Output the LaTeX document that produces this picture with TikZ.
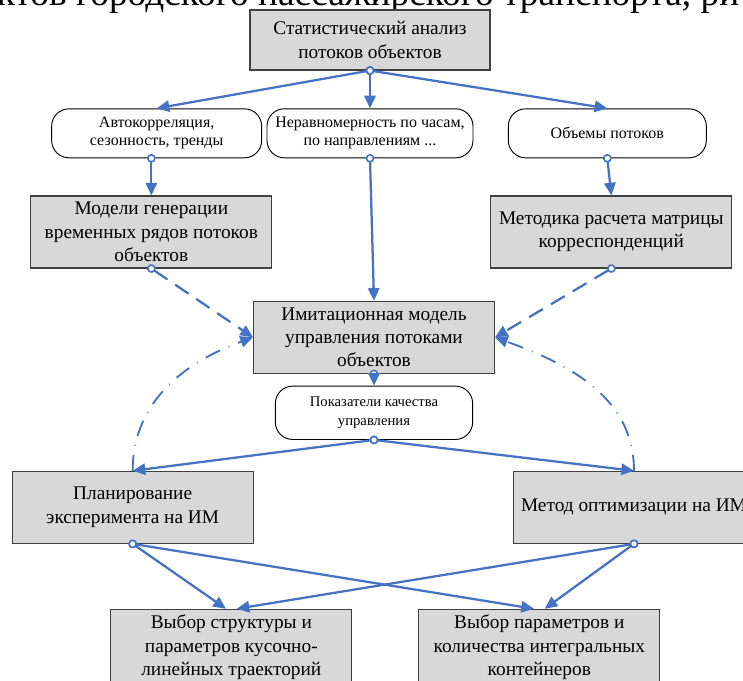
\documentclass[tikz,border=0pt]{standalone}
\usepackage{fontspec}
\setmainfont{Liberation Serif}
\usetikzlibrary{arrows.meta}
\definecolor{liniya}{RGB}{68,114,196}
\definecolor{seryj}{RGB}{216,216,216}

\begin{document}
\begin{tikzpicture}[
        node distance=70pt,
        blok/.style={rectangle, draw=black!75, fill=seryj, line width=0.8pt, minimum width=180.75pt, minimum height=54pt, align=center, font=\fontsize{14.5pt}{17.5pt}\selectfont},
        oval/.style={rectangle, rounded corners=13pt, draw=black, line width=0.7pt, fill=white, minimum height=36.75pt, align=center, font=\fontsize{12pt}{13.5pt}\selectfont},
        svyaz/.style={draw=liniya, line width=1.7pt, {Circle[fill=white,length=6.5pt,width=6.5pt,line width=1.2pt]}-{Triangle[length=9.5pt,width=8.5pt]}, shorten <=-3.25pt},
        duga/.style={draw=liniya, line width=1.4pt, -{Triangle[length=9.5pt,width=8.5pt]}, dash pattern=on 12pt off 7pt on 0.6pt off 7pt}
    ]
        \useasboundingbox (-277.5pt,30pt) rectangle (279.75pt,-480.75pt);

        % Обрезанная строка текста над схемой
        \node[anchor=base west, inner sep=0pt, font=\fontsize{28pt}{30pt}\selectfont] (shapka) at (-280pt,25.5pt) {ктов городского пассажирского транспорта, ри};

        % Узлы схемы
        \node[blok, minimum width=180pt, minimum height=45pt] (analiz) {Статистический анализ\\потоков объектов};
        \node[oval, minimum width=157.5pt] (avtokor) [below of=analiz, xshift=-160pt] {Автокорреляция,\\сезонность, тренды};
        \node[oval, minimum width=154.5pt] (neravn) [below of=analiz] {Неравномерность по часам,\\по направлениям ...};
        \node[oval, minimum width=148.5pt] (obemy) [below of=analiz, xshift=178pt] {Объемы потоков};

        \node[blok] (modeli) [below of=avtokor, xshift=-4pt, yshift=-4pt] {Модели генерации\\временных рядов потоков\\объектов};
        \node[blok] (metodika) [below of=obemy, xshift=3pt, yshift=-4pt] {Методика расчета матрицы\\корреспонденций};

        \node[blok] (imit) [below of=neravn, xshift=3pt, yshift=-83pt] {Имитационная модель\\управления потоками\\объектов};
        \node[oval, minimum width=148pt, minimum height=40pt, font=\fontsize{11pt}{14pt}\selectfont] (pokaz) [below of=imit, yshift=13.4pt] {Показатели качества\\управления};

        \node[blok] (plan) [below of=imit, xshift=-181pt, yshift=-57.5pt] {Планирование\\эксперимента на ИМ};
        \node[blok] (optim) [below of=imit, xshift=195pt, yshift=-57.5pt] {Метод оптимизации на ИМ};

        \node[blok, minimum height=57pt] (struktura) [below of=plan, xshift=74pt, yshift=-35pt] {Выбор структуры и\\параметров кусочно-\\линейных траекторий};
        \node[blok, minimum height=57pt] (parametry) [below of=optim, xshift=-71pt, yshift=-35pt] {Выбор параметров и\\количества интегральных\\контейнеров};

        % Связи
        \draw[svyaz] (analiz.south) -- (avtokor.north);
        \draw[svyaz] (analiz.south) -- (neravn.north);
        \draw[svyaz] (analiz.south) -- (obemy.north);
        \draw[svyaz] (avtokor.south -| modeli.north) -- (modeli.north);
        \draw[svyaz] (neravn.south) -- (imit.north);
        \draw[svyaz] (obemy.south) -- (metodika.north);
        \draw[svyaz, dash pattern=on 12pt off 7pt] (modeli.south) -- (imit.west);
        \draw[svyaz, dash pattern=on 12pt off 7pt] (metodika.south) -- (imit.east);
        \draw[svyaz] (imit.south) -- (pokaz.north);
        \draw[svyaz] (pokaz.south) -- (plan.north);
        \draw[svyaz] (pokaz.south) -- (optim.north);
        \draw[svyaz] (plan.south) -- ([xshift=-4pt]struktura.north);
        \draw[svyaz] (plan.south) -- ([xshift=-4pt]parametry.north);
        \draw[svyaz] (optim.south) -- ([xshift=4pt]struktura.north);
        \draw[svyaz] (optim.south) -- ([xshift=4pt]parametry.north);

        % Обратные связи
        \draw[duga] (plan.north) to[out=90, in=200] (imit.west);
        \draw[duga] (optim.north) to[out=90, in=-20] (imit.east);
    \end{tikzpicture}
\end{document}
